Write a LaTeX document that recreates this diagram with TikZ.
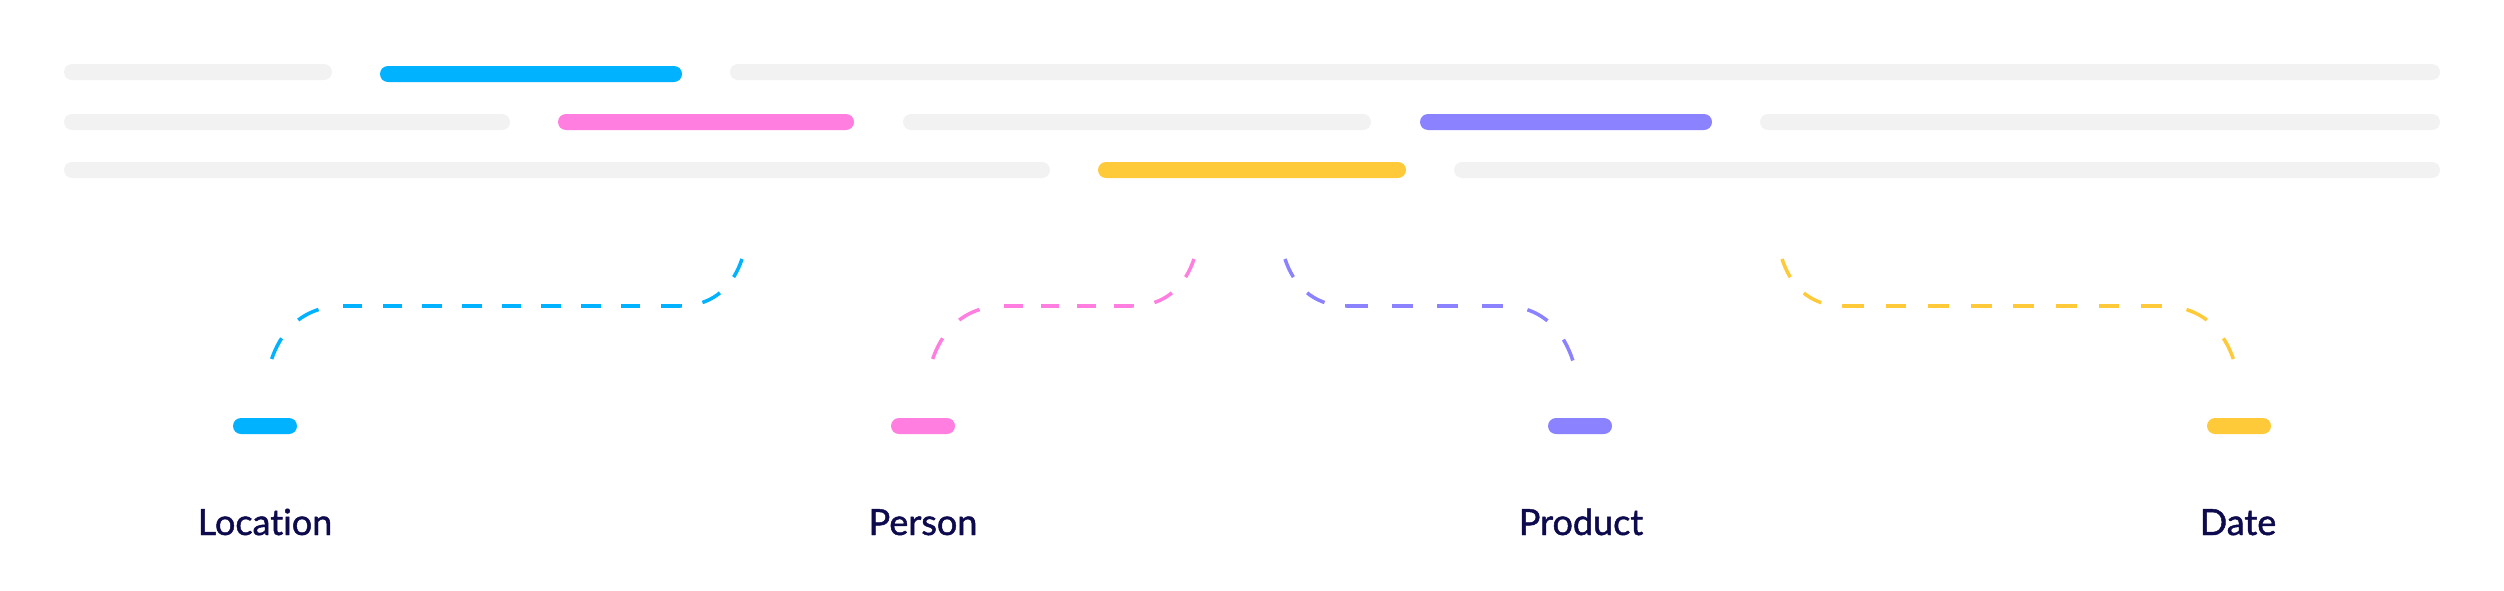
\documentclass[tikz,border=0pt]{standalone}
\usepackage{fontspec}
\setmainfont{Lato}[Ligatures={NoCommon}, FakeBold=1.3]
\definecolor{cblue}{HTML}{00B2FF}
\definecolor{cpink}{HTML}{FF7EDF}
\definecolor{cpurple}{HTML}{8A82FF}
\definecolor{cyellow}{HTML}{FFCA3A}
\definecolor{cgray}{HTML}{F2F2F2}
\definecolor{cnavy}{HTML}{0D0B4D}
\begin{document}
\begin{tikzpicture}[x=1pt,y=-1pt,
  bar/.style={rectangle, rounded corners=8pt, minimum height=16pt, inner sep=0pt, outer sep=0pt, fill=#1},
  conn/.style={line width=3.5pt, draw=#1},
  topdash/.style={dash pattern=on 20pt off 21pt},
  botdash/.style={dash pattern=on 23pt off 24.8pt, dash phase=23pt},
  lbl/.style={anchor=base, text=cnavy, font=\fontsize{36}{40}\selectfont, inner sep=0pt}]
\useasboundingbox (0,0) rectangle (2504,590);
% row 1
\node[bar=cgray, minimum width=268pt] (r1a) at (198,72) {};
\node[bar=cblue, minimum width=302pt] (r1b) at (531,74) {};
\node[bar=cgray, minimum width=1710pt] (r1c) at (1585,72) {};
% row 2
\node[bar=cgray, minimum width=446pt] (r2a) at (287,122) {};
\node[bar=cpink, minimum width=296pt] (r2b) at (706,122) {};
\node[bar=cgray, minimum width=468pt] (r2c) at (1137,122) {};
\node[bar=cpurple, minimum width=292pt] (r2d) at (1566,122) {};
\node[bar=cgray, minimum width=680pt] (r2e) at (2100,122) {};
% row 3
\node[bar=cgray, minimum width=986pt] (r3a) at (557,170) {};
\node[bar=cyellow, minimum width=308pt] (r3b) at (1252,170) {};
\node[bar=cgray, minimum width=986pt] (r3c) at (1947,170) {};
% small bars
\node[bar=cblue, minimum width=64pt] (s1) at (265,426) {};
\node[bar=cpink, minimum width=64pt] (s2) at (923,426) {};
\node[bar=cpurple, minimum width=64pt] (s3) at (1580,426) {};
\node[bar=cyellow, minimum width=64pt] (s4) at (2239,426) {};
% labels
\node[lbl] (l1) at (265,535) {Location};
\node[lbl] (l2) at (923,535) {Person};
\node[lbl] (l3) at (1581,535) {Product};
\node[lbl] (l4) at (2238,535) {Date};
% connector ends and corners
\coordinate (t1) at (742,259);  \coordinate (h1a) at (680,306);
\coordinate (h1b) at (343,306); \coordinate (b1) at (271,361);
\coordinate (t2) at (1194,259); \coordinate (h2a) at (1132,306);
\coordinate (h2b) at (1004,306); \coordinate (b2) at (932,361);
\coordinate (t3) at (1285,259); \coordinate (h3a) at (1347,306);
\coordinate (h3b) at (1503,306); \coordinate (b3) at (1573,361);
\coordinate (t4) at (1782,259); \coordinate (h4a) at (1843,306);
\coordinate (h4b) at (2162,306); \coordinate (b4) at (2234,361);
% blue connector
\draw[conn=cblue, topdash] (t1) .. controls +(-8,24) and +(36,0) .. (h1a);
\draw[conn=cblue, dash pattern=on 19.5pt off 20.2pt] (h1a) -- (h1b);
\draw[conn=cblue, botdash] (h1b) .. controls +(-42,0) and +(9,-28) .. (b1);
% pink connector
\draw[conn=cpink, topdash] (t2) .. controls +(-8,24) and +(36,0) .. (h2a);
\draw[conn=cpink, dash pattern=on 18.5pt off 18pt] (h2a) -- (h2b);
\draw[conn=cpink, botdash] (h2b) .. controls +(-42,0) and +(9,-28) .. (b2);
% purple connector
\draw[conn=cpurple, topdash] (t3) .. controls +(8,24) and +(-36,0) .. (h3a);
\draw[conn=cpurple, dash pattern=on 21pt off 24pt] (h3a) -- (h3b);
\draw[conn=cpurple, botdash] (h3b) .. controls +(41,0) and +(-9,-28) .. (b3);
% yellow connector
\draw[conn=cyellow, topdash] (t4) .. controls +(8,24) and +(-36,0) .. (h4a);
\draw[conn=cyellow, dash pattern=on 20.7pt off 21.9pt] (h4a) -- (h4b);
\draw[conn=cyellow, botdash] (h4b) .. controls +(42,0) and +(-9,-28) .. (b4);
\end{tikzpicture}
\end{document}
